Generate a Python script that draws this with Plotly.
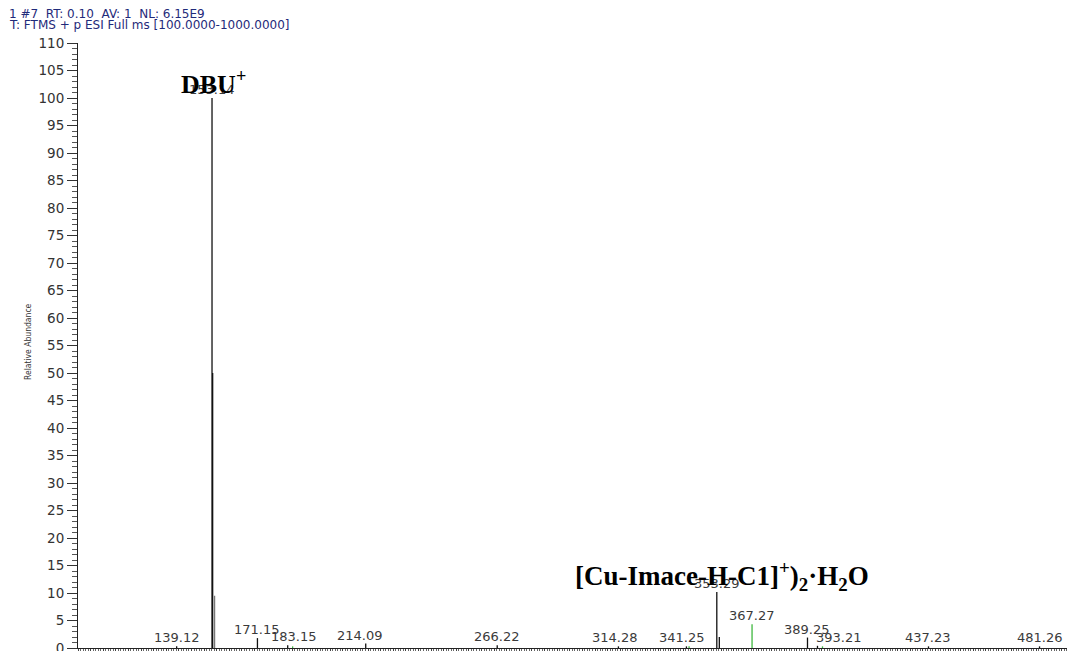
import plotly.graph_objects as go

# Centroided peaks: m/z, relative abundance (%), stick colour group
mz = [139.12, 153.14, 153.40, 154.15, 171.15, 183.15, 185.10, 214.09, 266.22,
      314.28, 341.25, 342.30, 353.29, 354.29, 367.27, 389.25, 393.21, 395.20,
      437.23, 481.26]
abundance = [0.3, 100.0, 50.0, 9.5, 1.8, 0.5, 0.3, 0.8, 0.5,
             0.3, 0.3, 0.3, 10.2, 2.0, 4.3, 1.9, 0.4, 0.3,
             0.3, 0.3]
stick_group = ["k", "k", "k", "g", "k", "k", "G", "k", "k",
               "k", "k", "G", "k", "k", "G", "k", "k", "G",
               "k", "k"]

# Peaks that carry an m/z label
labelled_mz = [139.12, 153.14, 171.15, 183.15, 214.09, 266.22, 314.28,
               341.25, 353.29, 367.27, 389.25, 393.21, 437.23, 481.26]
# Horizontal nudges (px) for labels pushed aside to avoid overlaps
label_nudge = {183.15: 6, 214.09: -6, 314.28: -3, 341.25: -4, 393.21: 22}

header_lines = ["1 #7  RT: 0.10  AV: 1  NL: 6.15E9",
                "T: FTMS + p ESI Full ms [100.0000-1000.0000]"]
y_ticks = list(range(0, 111, 5))

W, H = 1067, 651
ML, MR, MT, MB = 78, 0, 43, 3
X_RANGE = [100, 100 + (W - ML - MR) / 2.522]

group_color = {"k": "#111111", "g": "#777777", "G": "#3fb83f"}

fig = go.Figure()
for grp, col in group_color.items():
    xs, ys = [], []
    for m, a, g in zip(mz, abundance, stick_group):
        if g == grp:
            xs += [m, m, None]
            ys += [0, a, None]
    fig.add_trace(go.Scatter(x=xs, y=ys, mode="lines",
                             line=dict(color=col, width=1.3),
                             hoverinfo="skip", showlegend=False))

label_font = dict(family="DejaVu Sans", size=13, color="#3a3a3a")
for m in labelled_mz:
    a = abundance[mz.index(m)]
    fig.add_annotation(x=m, y=a, xref="x", yref="y", text=f"{m:.2f}",
                       showarrow=False, yanchor="bottom", yshift=-1,
                       xshift=label_nudge.get(m, 0), font=label_font)

# Ion assignments
fig.add_annotation(x=153.14, y=100, xref="x", yref="y",
                   text="<b>DBU<sup>+</sup></b>", showarrow=False,
                   yanchor="bottom", yshift=-3, xshift=1,
                   font=dict(family="Liberation Serif", size=26, color="#000000"))
fig.add_annotation(x=353.29, y=10.2, xref="x", yref="y",
                   text="<b>[Cu-Imace-H-C1]<sup>+</sup>)<sub>2</sub>·H<sub>2</sub>O</b>",
                   showarrow=False, yanchor="bottom", yshift=-5, xshift=5,
                   font=dict(family="Liberation Serif", size=27, color="#000000"))

# Scan header, two tightly stacked lines
plot_h = H - MT - MB
plot_w = W - ML - MR
for i, line in enumerate(header_lines):
    fig.add_annotation(x=(8 - ML) / plot_w, y=(H - MB - (14.0 + 11.0 * i)) / plot_h,
                       xref="paper", yref="paper", text=line, showarrow=False,
                       xanchor="left", yanchor="middle", borderpad=0,
                       font=dict(family="DejaVu Sans", size=12, color="#1f2a7a"))

# Y-axis title
fig.add_annotation(x=(21 - ML) / plot_w, y=(H - MB - 342) / plot_h,
                   xref="paper", yref="paper", text="Relative Abundance",
                   showarrow=False, textangle=-90,
                   font=dict(family="Liberation Sans Narrow, DejaVu Sans Condensed, sans-serif",
                             size=8.5, color="#333333"))

fig.update_layout(
    width=W, height=H,
    margin=dict(l=ML, r=MR, t=MT, b=MB, autoexpand=False),
    paper_bgcolor="white", plot_bgcolor="white",
    xaxis=dict(range=X_RANGE, showgrid=False, zeroline=False, automargin=False,
               showline=True, linecolor="#222222", linewidth=1,
               showticklabels=False, ticks="outside", ticklen=3,
               tickcolor="#444444", dtick=5,
               minor=dict(dtick=1, ticks="outside", ticklen=2, tickcolor="#666666")),
    yaxis=dict(range=[0, 110], showgrid=False, zeroline=False, automargin=False,
               showline=True, linecolor="#222222", linewidth=1,
               tickvals=y_ticks, ticks="outside", ticklen=10,
               tickcolor="#333333", ticklabeloverflow="allow",
               tickfont=dict(family="DejaVu Sans", size=13.5, color="#333333"),
               minor=dict(dtick=1, ticks="outside", ticklen=5, tickcolor="#555555")),
)

fig.write_html("out.html")
